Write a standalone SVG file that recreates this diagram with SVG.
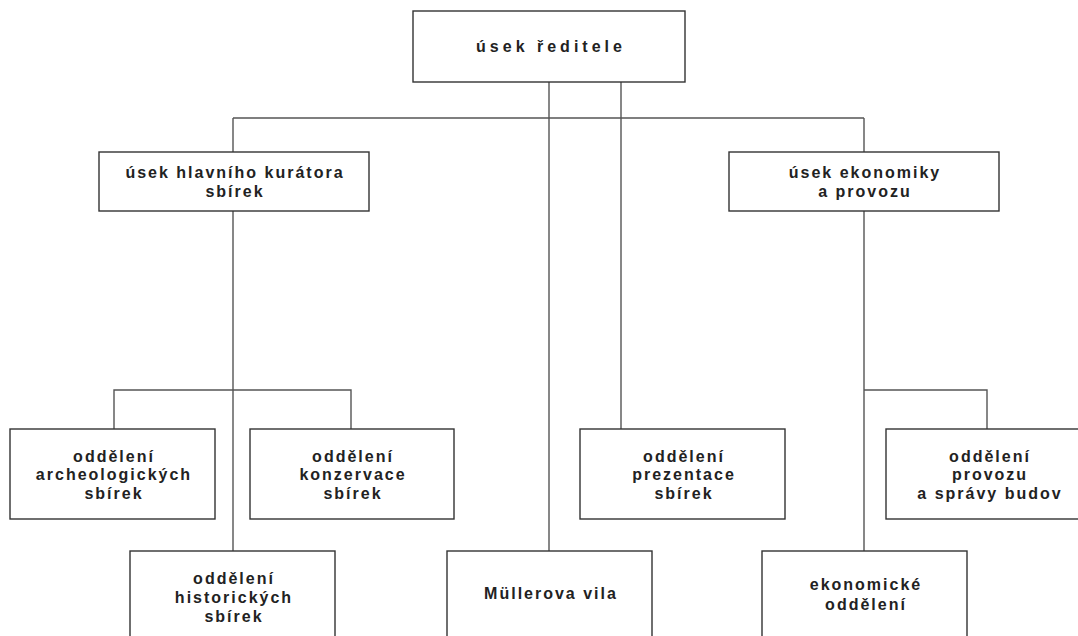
<svg xmlns="http://www.w3.org/2000/svg" width="1078" height="636" viewBox="0 0 1078 636">
<style>
.box{fill:#fff;stroke:#333;stroke-width:1.4}
.ln{fill:none;stroke:#555;stroke-width:1.4}
.t{font-family:"Liberation Sans",Arial,sans-serif;font-weight:bold;font-size:16px;fill:#222;text-anchor:middle;letter-spacing:2px}
.tt{letter-spacing:4px}
</style>
<rect width="1078" height="636" fill="#fff"/>
<g id="connectors">
<path class="ln" d="M549 82V551M621 82V429M233 118H864M233 118V152M864 118V152M233 211V551M864 211V551M114 429V390H351V429M864 390H987V429"/>
</g>
<g id="n-reditel"><rect class="box" x="413" y="11" width="272" height="71"/><text class="t tt" x="551" y="52">úsek ředitele</text></g>
<g id="n-kurator"><rect class="box" x="99" y="152" width="270" height="59"/><text class="t" x="235" y="178">úsek hlavního kurátora</text><text class="t" x="235" y="197">sbírek</text></g>
<g id="n-ekonomika"><rect class="box" x="729" y="152" width="270" height="59"/><text class="t" x="865" y="178">úsek ekonomiky</text><text class="t" x="865" y="197">a provozu</text></g>
<g id="n-archeo"><rect class="box" x="10" y="429" width="205" height="90"/><text class="t" x="114" y="462">oddělení</text><text class="t" x="114" y="480">archeologických</text><text class="t" x="114" y="499">sbírek</text></g>
<g id="n-konzervace"><rect class="box" x="250" y="429" width="204" height="90"/><text class="t" x="353" y="462">oddělení</text><text class="t" x="353" y="480">konzervace</text><text class="t" x="353" y="499">sbírek</text></g>
<g id="n-prezentace"><rect class="box" x="580" y="429" width="205" height="90"/><text class="t" x="684" y="462">oddělení</text><text class="t" x="684" y="480">prezentace</text><text class="t" x="684" y="499">sbírek</text></g>
<g id="n-provoz"><rect class="box" x="886" y="429" width="205" height="90"/><text class="t" x="990" y="462">oddělení</text><text class="t" x="990" y="480">provozu</text><text class="t" x="990" y="499">a správy budov</text></g>
<g id="n-historicke"><rect class="box" x="130" y="551" width="205" height="100"/><text class="t" x="234" y="584">oddělení</text><text class="t" x="234" y="603">historických</text><text class="t" x="234" y="622">sbírek</text></g>
<g id="n-muller"><rect class="box" x="447" y="551" width="205" height="100"/><text class="t" x="551" y="599">Müllerova vila</text></g>
<g id="n-ekonom-odd"><rect class="box" x="762" y="551" width="205" height="100"/><text class="t" x="866" y="590">ekonomické</text><text class="t" x="866" y="610">oddělení</text></g>
</svg>
